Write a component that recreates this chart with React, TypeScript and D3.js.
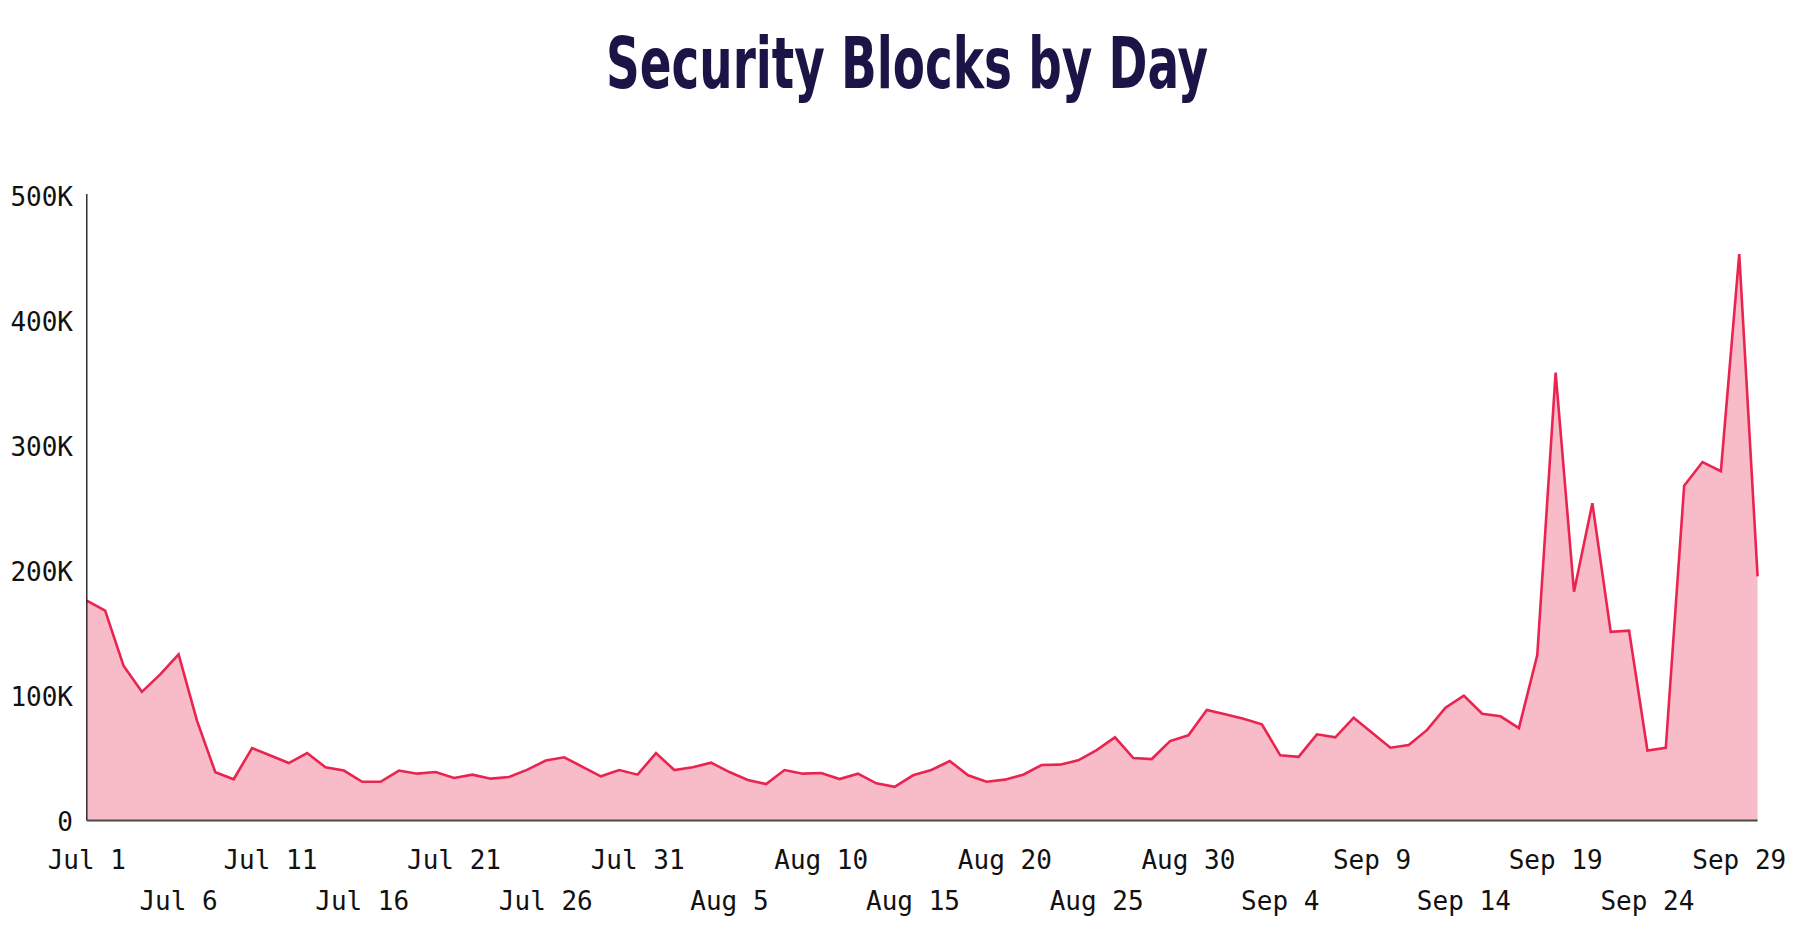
import React from "react";
import * as d3 from "d3";

const TITLE = "Security Blocks by Day";
const START_DATE = "2024-07-01";
const dailyBlocks = [
  176000, 168000, 124000, 103000, 117000, 133000, 80000, 38600, 33000, 58000,
  52000, 46000, 54000, 42600, 40000, 31000, 31000, 40000, 37500, 38800,
  34000, 36700, 33500, 34800, 40700, 48000, 50600, 43000, 35400, 40400,
  36700, 54000, 40400, 42600, 46300, 38800, 32400, 29200, 40400, 37500,
  38000, 33200, 37500, 29800, 27000, 36200, 40400, 47600, 36200, 31000,
  32700, 36700, 44400, 44700, 48200, 56400, 66600, 50000, 49200, 63600,
  68200, 88500, 85000, 81500, 77000, 52200, 51000, 69000, 66600, 82300,
  70300, 58300, 60400, 72500, 90300, 100000, 85500, 83400, 74000, 132500,
  358700, 183200, 254000, 151000, 152000, 56000, 58200, 268000, 287000, 279700,
  453500, 195400,
];
const yTicks = [0, 100000, 200000, 300000, 400000, 500000];
const xTickEveryDays = 5;

const W = 1814;
const H = 942;
const M = { left: 86.8, right: 1757.6, top: 196, bottom: 820.5 };

export default function App() {
  const parse = d3.timeParse("%Y-%m-%d");
  const start = parse(START_DATE) as Date;
  const dates = dailyBlocks.map((_, i) => d3.timeDay.offset(start, i));
  const data = dates.map((d, i) => ({ d, v: dailyBlocks[i] }));

  const x = d3
    .scaleTime()
    .domain([dates[0], dates[dates.length - 1]])
    .range([M.left, M.right]);
  const y = d3.scaleLinear().domain([0, 500000]).range([M.bottom, M.top]);

  const area = d3
    .area<{ d: Date; v: number }>()
    .x((p) => x(p.d))
    .y0(y(0))
    .y1((p) => y(p.v));
  const line = d3
    .line<{ d: Date; v: number }>()
    .x((p) => x(p.d))
    .y((p) => y(p.v));

  const xTicks = dates.filter((_, i) => i % xTickEveryDays === 0);
  const fmtX = d3.timeFormat("%b %-d");
  const fmtY = (v: number) => (v === 0 ? "0" : `${v / 1000}K`);
  const mono = "'DejaVu Sans Mono', 'Liberation Mono', monospace";

  return (
    <svg
      width={W}
      height={H}
      style={{ position: "absolute", left: 0, top: 0, display: "block", background: "#fff" }}
    >
      <text
        x={W / 2}
        y={88}
        textAnchor="middle"
        fontFamily="'DejaVu Sans Condensed', 'DejaVu Sans', sans-serif"
        fontWeight="bold"
        fontSize={72}
        fill="#1b1446"
        textLength={602}
        lengthAdjust="spacingAndGlyphs"
      >
        {TITLE}
      </text>

      <path d={area(data) || ""} fill="#f8bcc8" stroke="none" />
      <path d={line(data) || ""} fill="none" stroke="#ea2450" strokeWidth={2.6} strokeLinejoin="miter" />

      <line x1={M.left} x2={M.left} y1={M.top - 2} y2={M.bottom} stroke="#111" strokeWidth={1.3} />
      <line x1={M.left} x2={M.right} y1={M.bottom} y2={M.bottom} stroke="#4a4a4a" strokeWidth={2} />

      {yTicks.map((t) => (
        <text
          key={t}
          x={73}
          y={y(t) + 1}
          textAnchor="end"
          dominantBaseline="central"
          fontFamily={mono}
          fontSize={26}
          fill="#111"
        >
          {fmtY(t)}
        </text>
      ))}

      {xTicks.map((d, k) => (
        <text
          key={k}
          x={x(d)}
          y={k % 2 === 0 ? 869 : 910}
          textAnchor="middle"
          fontFamily={mono}
          fontSize={26}
          fill="#111"
        >
          {fmtX(d)}
        </text>
      ))}
    </svg>
  );
}
